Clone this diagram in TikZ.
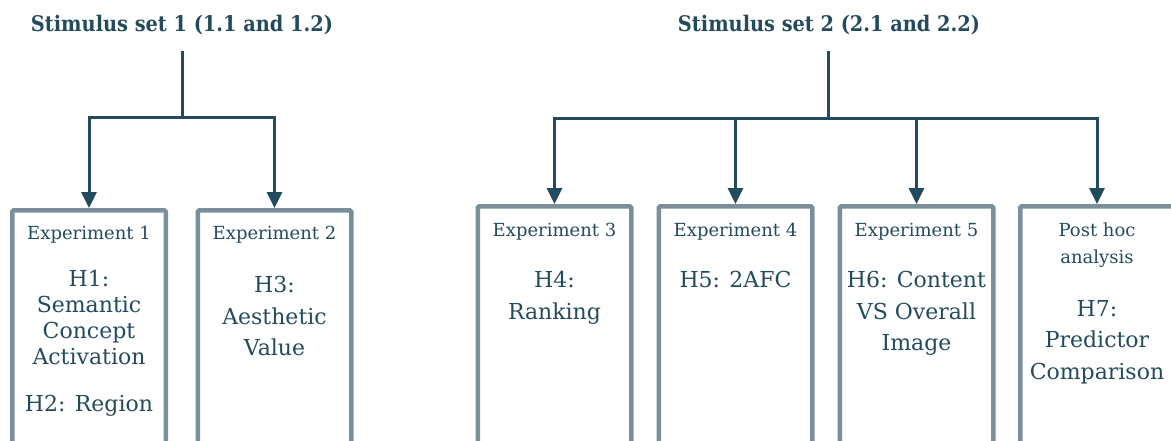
\documentclass[tikz,border=0pt]{standalone}
\usepackage{fontspec}
\setmainfont{DejaVu Serif}
\newfontfamily\titlefont{DejaVu Serif Condensed}
\usetikzlibrary{arrows.meta}
\definecolor{ink}{RGB}{35,75,94}
\definecolor{framec}{RGB}{122,143,154}
\begin{document}
\begin{tikzpicture}[x=1pt,y=-1pt,
  expbox/.style={draw=framec, line width=4.5pt, rounded corners=1.5pt, minimum width=153.5pt, minimum height=260pt, anchor=north, inner sep=0pt},
  arr/.style={draw=ink, line width=3pt, -{Triangle[width=15pt,length=16pt]}},
  conn/.style={draw=ink, line width=3pt},
  titletext/.style={text=ink, font=\titlefont\fontsize{21.5}{26}\selectfont\bfseries, inner sep=0pt},
  smalltext/.style={text=ink, font=\fontsize{18}{27}\selectfont, align=center, inner sep=0pt},
  bigtext/.style={text=ink, font=\fontsize{22}{31.5}\selectfont, align=center, inner sep=0pt},
  bigtight/.style={bigtext, font=\fontsize{22}{26}\selectfont}]
\useasboundingbox (0,0) rectangle (1171,440);
% titles
\node[titletext] (s1) at (182,25) {Stimulus set 1 (1.1 and 1.2)};
\node[titletext] (s2) at (829,25) {Stimulus set 2 (2.1 and 2.2)};
% boxes
\node[expbox] (e1) at (89,208) {};
\node[expbox] (e2) at (274.5,208) {};
\node[expbox] (e3) at (554.5,204) {};
\node[expbox] (e4) at (735.5,204) {};
\node[expbox] (e5) at (916.5,204) {};
\node[expbox] (e6) at (1097,204) {};
% connectors
\coordinate (s1top) at (182,51);
\coordinate (s1j) at (182,117);
\coordinate (s2top) at (828.5,51);
\coordinate (s2j) at (828.5,118);
\draw[conn] (s1top) -- (s1j);
\draw[arr] (s1j) -| (e1.north);
\draw[arr] (s1j) -| (e2.north);
\draw[conn] (s2top) -- (s2j);
\draw[arr] (s2j) -| (e3.north);
\draw[arr] (s2j) -| (e4.north);
\draw[arr] (s2j) -| (e5.north);
\draw[arr] (s2j) -| (e6.north);
% box texts
\node[smalltext, anchor=base] (e1a) at (89,239.5) {Experiment 1};
\node[bigtight, anchor=north] (e1b) at (89,270) {H1:\\Semantic\\Concept\\Activation};
\node[bigtext, anchor=base] (e1c) at (89,411) {H2: Region};
\node[smalltext, anchor=base] (e2a) at (274.5,239.5) {Experiment 2};
\node[bigtext, anchor=north] (e2b) at (274.5,276) {H3:\\Aesthetic\\Value};
\node[smalltext, anchor=base] (e3a) at (554.5,236.5) {Experiment 3};
\node[bigtext, anchor=north] (e3b) at (554.5,271) {H4:\\Ranking};
\node[smalltext, anchor=base] (e4a) at (735.5,236.5) {Experiment 4};
\node[bigtext, anchor=base] (e4b) at (735.5,287) {H5: 2AFC};
\node[smalltext, anchor=base] (e5a) at (916.5,236.5) {Experiment 5};
\node[bigtext, anchor=north] (e5b) at (916.5,271) {H6: Content\\VS Overall\\Image};
\node[smalltext, anchor=north] (e6a) at (1097,223) {Post hoc\\analysis};
\node[bigtext, anchor=north] (e6b) at (1097,300) {H7:\\Predictor\\Comparison};
\end{tikzpicture}
\end{document}
